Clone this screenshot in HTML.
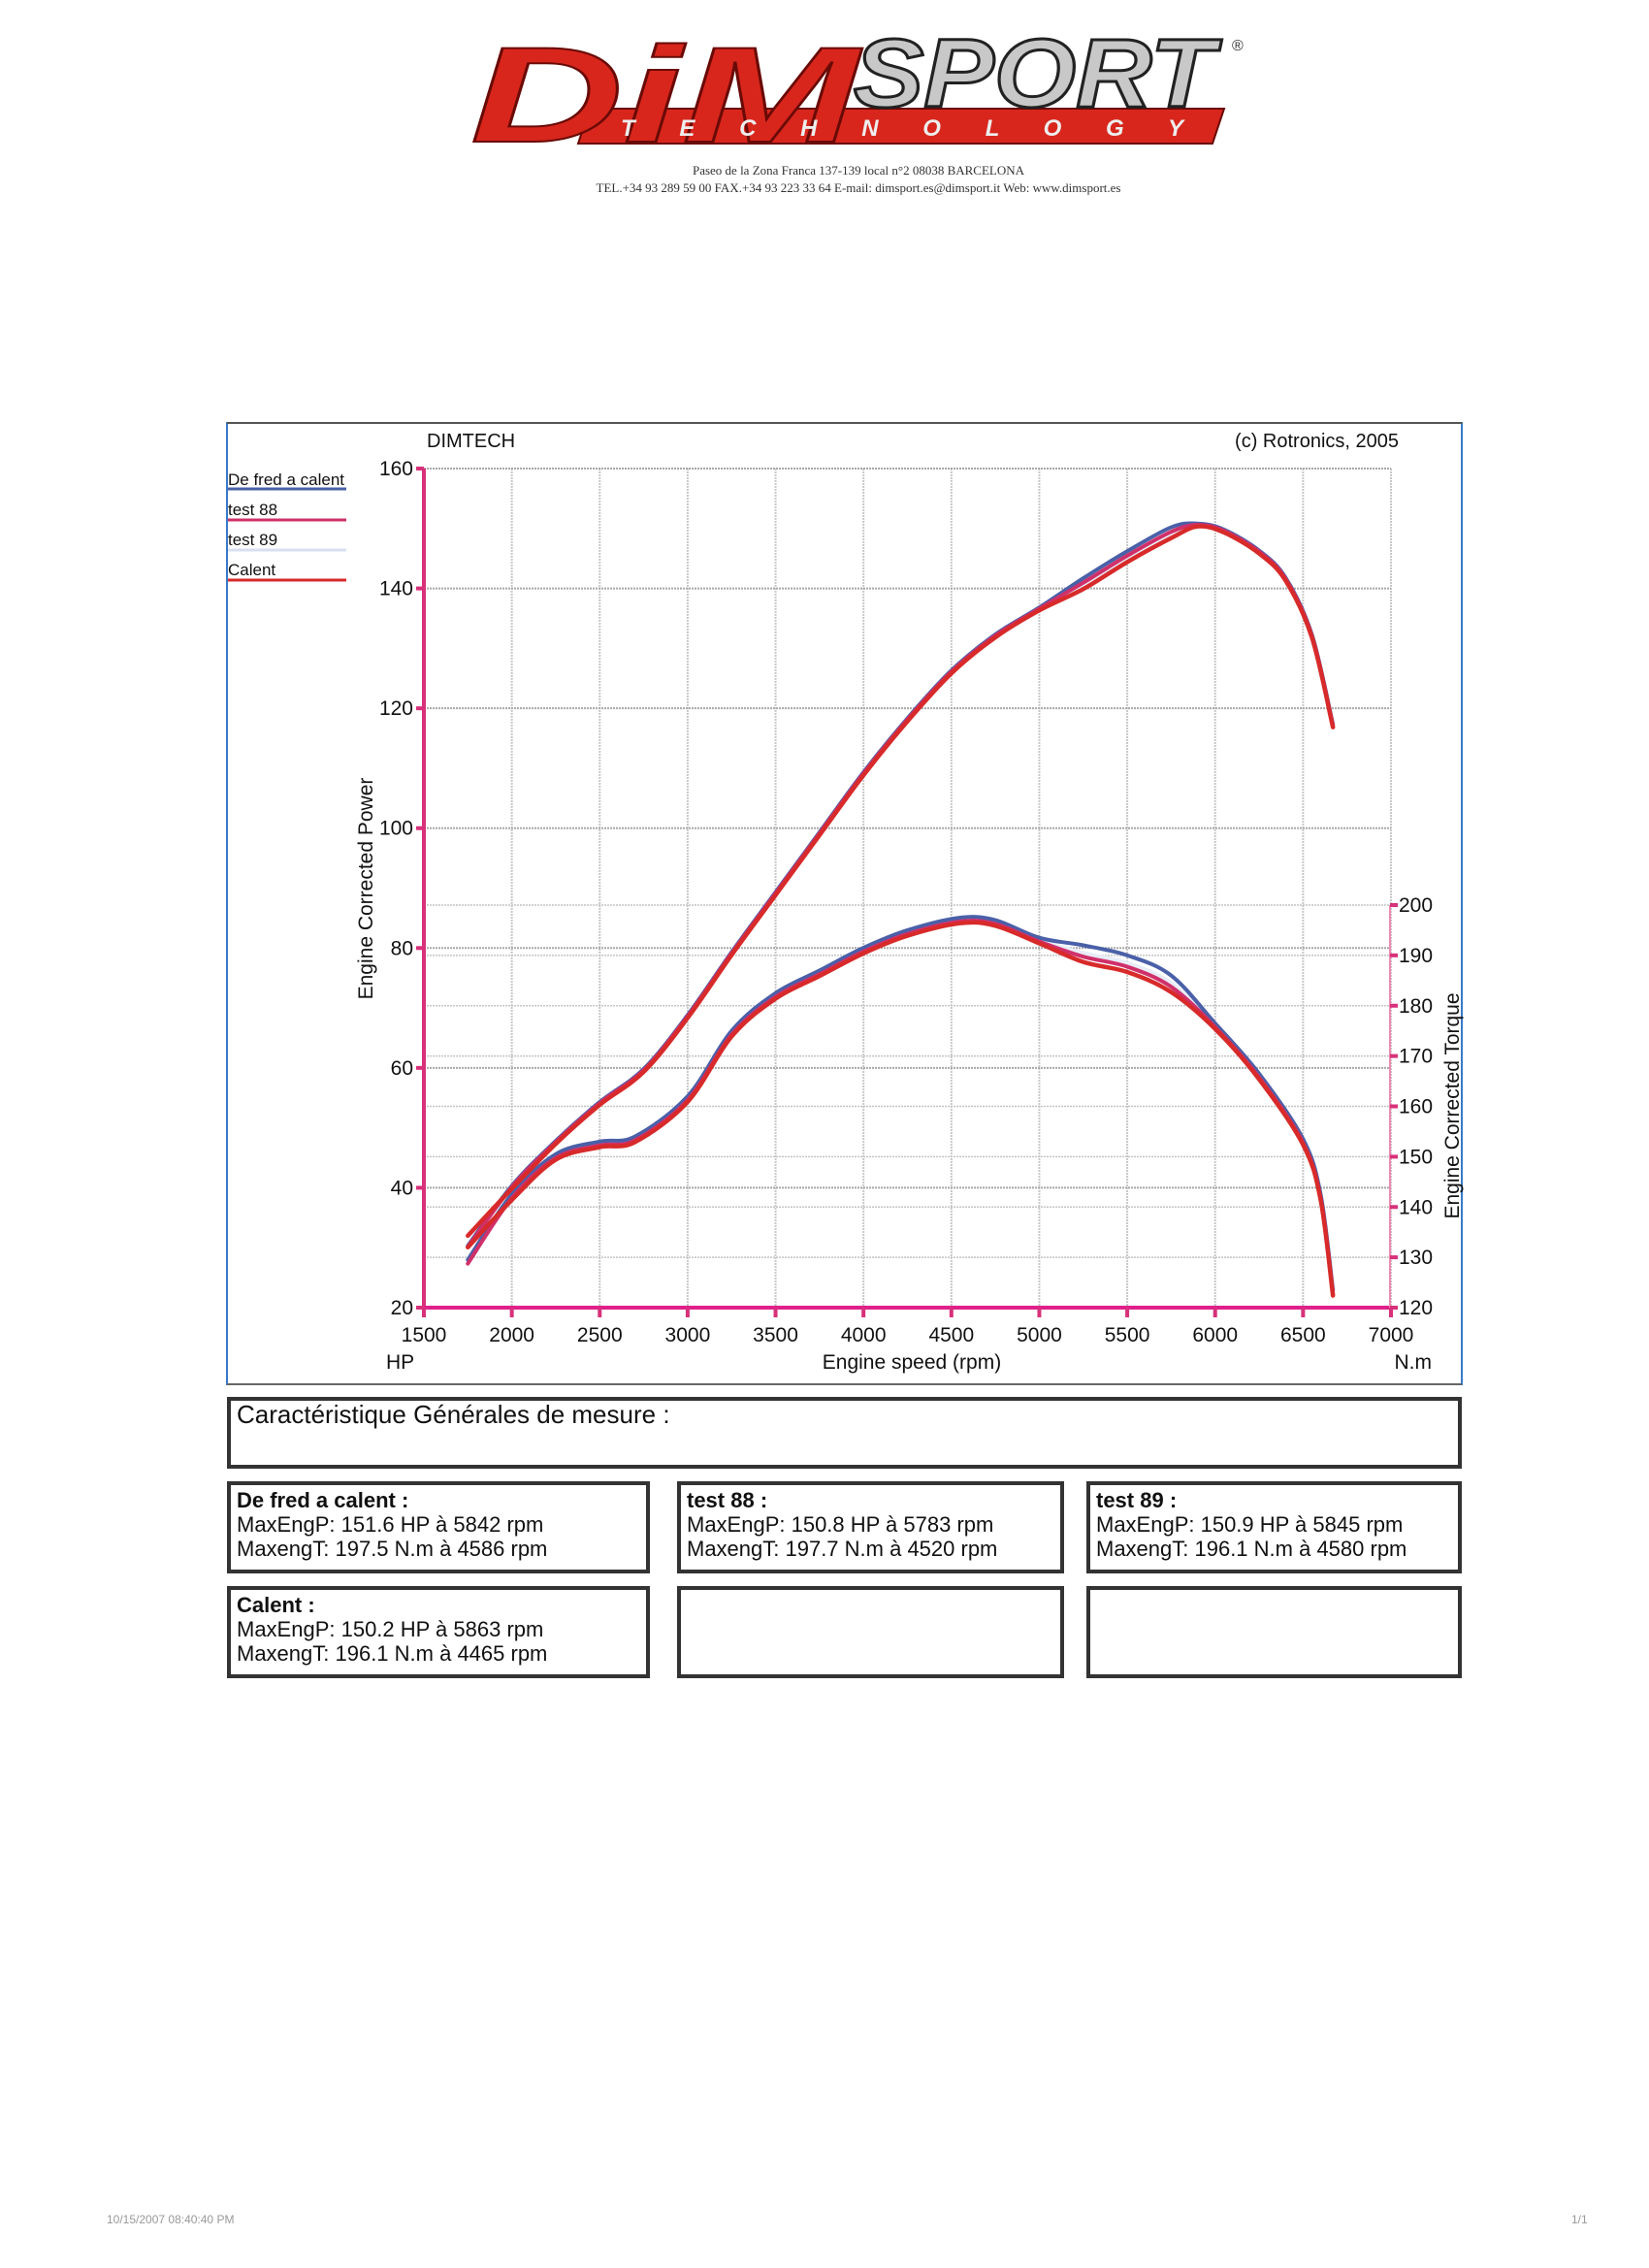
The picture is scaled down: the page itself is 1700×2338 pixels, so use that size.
<!DOCTYPE html>
<html><head><meta charset="utf-8">
<style>
html,body{margin:0;padding:0;background:#fff;}
body{width:1700px;height:2338px;position:relative;overflow:hidden;font-family:"Liberation Sans",sans-serif;}
.box{position:absolute;border:4px solid #333;box-sizing:border-box;background:#fff;}
.bt{position:absolute;left:6px;top:3px;font-size:22px;line-height:25px;color:#111;white-space:nowrap;}
.bt b{font-weight:bold;}
</style></head><body>
<svg width="1700" height="2338" style="position:absolute;left:0;top:0" xmlns="http://www.w3.org/2000/svg">
<!-- logo -->
<g>
<polygon points="596,148 1250,148 1262,112 608,112" fill="#d8261c" stroke="#6a0a06" stroke-width="2"/>
<text x="485" y="146" font-family="Liberation Sans" font-size="140" font-weight="bold" font-style="italic" fill="#d8261c" stroke="#6a0a06" stroke-width="2" textLength="400" lengthAdjust="spacingAndGlyphs">DiM</text>
<text x="880" y="110" font-family="Liberation Sans" font-size="100" font-weight="bold" font-style="italic" fill="#c8c8c8" stroke="#222" stroke-width="3" textLength="372" lengthAdjust="spacingAndGlyphs">SPORT</text>
<text x="640" y="140" font-family="Liberation Sans" font-size="24" font-weight="bold" font-style="italic" fill="#eee" textLength="580" lengthAdjust="spacing">T E C H N O L O G Y</text>
<text x="1270" y="52" font-family="Liberation Sans" font-size="16" fill="#333">®</text>
<text x="885" y="180" font-family="Liberation Serif" font-size="13" fill="#333" text-anchor="middle">Paseo de la Zona Franca 137-139 local n°2 08038 BARCELONA</text>
<text x="885" y="198" font-family="Liberation Serif" font-size="13" fill="#333" text-anchor="middle">TEL.+34 93 289 59 00 FAX.+34 93 223 33 64  E-mail: dimsport.es@dimsport.it Web: www.dimsport.es</text>
</g>
<!-- chart frame -->
<rect x="234" y="436" width="1273" height="991" fill="none" stroke="#3a7ac8" stroke-width="2"/>
<line x1="234" y1="436" x2="1507" y2="436" stroke="#555" stroke-width="2"/>
<line x1="234" y1="1427" x2="1507" y2="1427" stroke="#666" stroke-width="2"/>
<g id="grid"></g>
<g id="curves" fill="none" stroke-linecap="round" stroke-linejoin="round"></g>
<!-- axes -->
<line x1="437" y1="483" x2="437" y2="1348" stroke="#d8307a" stroke-width="4"/>
<line x1="437" y1="1348" x2="1434" y2="1348" stroke="#e0208a" stroke-width="4"/>
<line x1="1433" y1="933" x2="1433" y2="1348" stroke="#f08ab0" stroke-width="2"/>
<g id="ticks" font-family="Liberation Sans" font-size="21" fill="#111"></g>
<text x="440" y="461" font-family="Liberation Sans" font-size="20" fill="#111">DIMTECH</text>
<text x="1442" y="461" font-family="Liberation Sans" font-size="20" fill="#111" text-anchor="end">(c) Rotronics, 2005</text>
<text transform="translate(384,916) rotate(-90)" font-family="Liberation Sans" font-size="21" fill="#111" text-anchor="middle">Engine Corrected Power</text>
<text transform="translate(1504,1140) rotate(-90)" font-family="Liberation Sans" font-size="21" fill="#111" text-anchor="middle">Engine Corrected Torque</text>
<text x="398" y="1411" font-family="Liberation Sans" font-size="21" fill="#111">HP</text>
<text x="940" y="1411" font-family="Liberation Sans" font-size="21" fill="#111" text-anchor="middle">Engine speed (rpm)</text>
<text x="1476" y="1411" font-family="Liberation Sans" font-size="21" fill="#111" text-anchor="end">N.m</text>
<!-- legend -->
<g font-family="Liberation Sans" font-size="17" fill="#111">
<text x="235" y="500">De fred a calent</text><line x1="235" y1="504" x2="357" y2="504" stroke="#4a60a8" stroke-width="3"/>
<text x="235" y="531">test 88</text><line x1="235" y1="536" x2="357" y2="536" stroke="#d0306a" stroke-width="3"/>
<text x="235" y="562">test 89</text><line x1="235" y1="567" x2="357" y2="567" stroke="#d8e0f0" stroke-width="3"/>
<text x="235" y="593">Calent</text><line x1="235" y1="598" x2="357" y2="598" stroke="#d82a2a" stroke-width="3"/>
</g>
<g font-family="Liberation Sans" font-size="12" fill="#999">
<text x="110" y="2292">10/15/2007 08:40:40 PM</text>
<text x="1620" y="2292">1/1</text>
</g>
</svg>

<div class="box" style="left:234px;top:1440px;width:1273px;height:74px;"><div class="bt" style="font-size:26px;top:2px;">Caractéristique Générales de mesure :</div></div>
<div class="box" style="left:234px;top:1527px;width:436px;height:95px;"><div class="bt"><b>De fred a calent :</b><br>MaxEngP: 151.6 HP à 5842 rpm<br>MaxengT: 197.5 N.m à 4586 rpm</div></div>
<div class="box" style="left:698px;top:1527px;width:399px;height:95px;"><div class="bt"><b>test 88 :</b><br>MaxEngP: 150.8 HP à 5783 rpm<br>MaxengT: 197.7 N.m à 4520 rpm</div></div>
<div class="box" style="left:1120px;top:1527px;width:387px;height:95px;"><div class="bt"><b>test 89 :</b><br>MaxEngP: 150.9 HP à 5845 rpm<br>MaxengT: 196.1 N.m à 4580 rpm</div></div>
<div class="box" style="left:234px;top:1635px;width:436px;height:95px;"><div class="bt"><b>Calent :</b><br>MaxEngP: 150.2 HP à 5863 rpm<br>MaxengT: 196.1 N.m à 4465 rpm</div></div>
<div class="box" style="left:698px;top:1635px;width:399px;height:95px;"></div>
<div class="box" style="left:1120px;top:1635px;width:387px;height:95px;"></div>

<script>
var NS="http://www.w3.org/2000/svg";
function X(r){return 437+(r-1500)*997/5500;}
function YH(h){return 1348-(h-20)*865/140;}
function YT(t){return 1348-(t-120)*415/80;}
function el(p,tag,a,txt){var e=document.createElementNS(NS,tag);for(var k in a)e.setAttribute(k,a[k]);if(txt!=null)e.textContent=txt;p.appendChild(e);return e;}
var g=document.getElementById('grid'),tk=document.getElementById('ticks');
for(var r=2000;r<=7000;r+=500){el(g,'line',{x1:X(r),y1:483,x2:X(r),y2:1348,stroke:'#c8c8c8','stroke-width':2,'stroke-dasharray':'2,1'});}
for(var t=130;t<=200;t+=10){el(g,'line',{x1:437,y1:YT(t),x2:1434,y2:YT(t),stroke:'#c4c4c4','stroke-width':1.5,'stroke-dasharray':'2,1'});}
for(var h=40;h<=160;h+=20){el(g,'line',{x1:437,y1:YH(h),x2:1434,y2:YH(h),stroke:'#a8a8a8','stroke-width':2,'stroke-dasharray':'2,1'});}
for(var h=20;h<=160;h+=20){var y=YH(h);el(tk,'line',{x1:429,y1:y,x2:437,y2:y,stroke:'#d8307a','stroke-width':4});el(tk,'text',{x:426,y:y+7,'text-anchor':'end'},String(h));}
for(var r=1500;r<=7000;r+=500){var x=X(r);el(tk,'line',{x1:x,y1:1348,x2:x,y2:1358,stroke:'#d8307a','stroke-width':4});el(tk,'text',{x:x,y:1383,'text-anchor':'middle'},String(r));}
for(var t=120;t<=200;t+=10){var y=YT(t);el(tk,'line',{x1:1433,y1:y,x2:1441,y2:y,stroke:'#d8307a','stroke-width':4});el(tk,'text',{x:1442,y:y+7},String(t));}
function path(pts){var d='M'+pts[0][0]+','+pts[0][1];for(var i=0;i<pts.length-1;i++){var p0=pts[i-1]||pts[i],p1=pts[i],p2=pts[i+1],p3=pts[i+2]||p2;d+=' C'+(p1[0]+(p2[0]-p0[0])/6)+','+(p1[1]+(p2[1]-p0[1])/6)+' '+(p2[0]-(p3[0]-p1[0])/6)+','+(p2[1]-(p3[1]-p1[1])/6)+' '+p2[0]+','+p2[1];}return d;}
var P=[[1750,30],[2000,40],[2250,47.5],[2500,54],[2750,59.5],[3000,68.5],[3250,79],[3500,89],[3750,99],[4000,109],[4250,118],[4500,126],[4750,132],[5000,136.5],[5250,140.5],[5500,145],[5750,149],[5900,150.5],[6050,149.5],[6250,146],[6400,141.5],[6550,132],[6670,117]];
var T=[[1750,129],[2000,142],[2250,150],[2500,152.5],[2700,153.5],[3000,161.5],[3250,174.5],[3500,182],[3750,186.5],[4000,191],[4250,194.5],[4550,197],[4750,196.5],[5000,193],[5250,190.5],[5500,188.5],[5750,184.5],[6000,176],[6250,166],[6500,153],[6600,142],[6670,123]];
var series=[['#e8ecf6',4,0,0],['#4a60a8',4,0.8,1],['#d0306a',4,0.3,-0.5],['#d82a2a',4.5,-0.4,-1.2]];
var c=document.getElementById('curves');
series.forEach(function(s,i){
 var pp=P.map(function(p){var d=(p[0]>5200&&p[0]<5800)?s[2]*1.5:s[2]*0.4;if(i==3&&p[0]==1750)d=2;return [X(p[0]),YH(p[1]+d)];});
 var tt=T.map(function(p){var d=(p[0]>5100&&p[0]<5900)?s[3]*1.5:s[3]*0.5;if(i==3&&p[0]==1750)d=3;return [X(p[0]),YT(p[1]+d)];});
 el(c,'path',{d:path(pp),stroke:s[0],'stroke-width':s[1]});
 el(c,'path',{d:path(tt),stroke:s[0],'stroke-width':s[1]});
});
</script>
</body></html>
